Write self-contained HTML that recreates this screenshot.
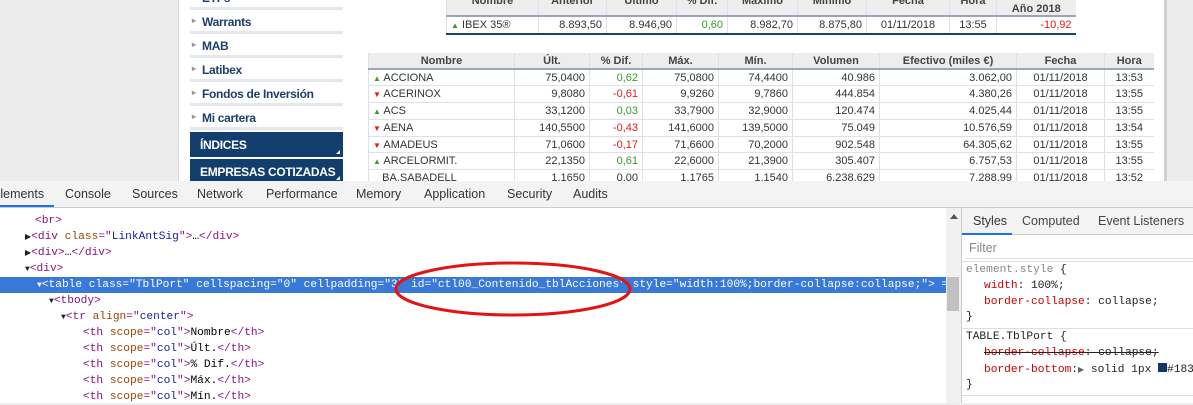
<!DOCTYPE html>
<html><head><meta charset="utf-8"><style>
*{box-sizing:border-box;margin:0;padding:0}
body{width:1193px;height:403px;overflow:hidden;position:relative;background:#ececec;font-family:"Liberation Sans",sans-serif}
.abs{position:absolute}
#page{left:178px;top:0;width:989px;height:181px;background:#fff;border-left:1px solid #d8d8d8;border-right:3px solid #d0d0d0}
.side{left:190px;width:153px;height:24px;border-bottom:3px solid #e4e8ee;font-size:12px;font-weight:bold;color:#1d3f6b;padding:5px 0 0 12px;letter-spacing:-0.3px}
.side:before{content:"▸";position:absolute;left:2px;top:6px;font-size:8px;color:#999}
.blue{left:190px;width:153px;background:#123e6d;color:#fff;font-size:12px;font-weight:bold;padding:6px 0 0 10px;letter-spacing:-0.3px}
.blue:after{content:"";position:absolute;right:3px;bottom:3px;border-left:4px solid transparent;border-bottom:4px solid #fff}
table{border-collapse:collapse;table-layout:fixed;font-family:"Liberation Sans Narrow","Liberation Sans",sans-serif;font-size:11px;color:#333}
td,th{border-left:1px solid #dde2ea;border-bottom:1px solid #dde2ea;padding:0 4px;white-space:nowrap;overflow:hidden}
th{background:#ededed;font-weight:bold;color:#444;text-align:center;border-bottom:2px solid #9aa6b8}
td{text-align:right;height:16.8px}
td.n{text-align:left}
.g{color:#3a9a2a}.r{color:#e01b1b}
.up{color:#3a9a2a;font-size:8px}.dn{color:#e01b1b;font-size:8px}
#tabs{left:0;top:181px;width:1193px;height:27px;background:#f3f3f3;border-bottom:1px solid #cbcbcb;font-size:12.5px;color:#333}
#tabs span{position:absolute;top:6px}
#tree{left:0;top:208px;width:946px;height:195px;background:#fff;font-family:"Liberation Mono",monospace;font-size:11.2px}
.l{position:absolute;height:16px;line-height:16px;white-space:pre}
.t{color:#881280}.a{color:#994500}.v{color:#1a1aa6}.x{color:#222}
#sel{left:0;top:277px;width:946px;height:16px;background:#3879d9;overflow:hidden}
#sel .l,#sel span{color:#fff}
#styles{left:961px;top:208px;width:232px;height:195px;background:#fff;border-left:1px solid #ccc;font-size:12.5px}
.s{position:absolute;font-family:"Liberation Mono",monospace;font-size:11.2px;white-space:pre;color:#222}
.p{color:#c80000}
</style></head><body>
<div id="page" class="abs"></div>

<div class="abs side" style="top:-14px">ETFs</div>
<div class="abs side" style="top:10px">Warrants</div>
<div class="abs side" style="top:34px">MAB</div>
<div class="abs side" style="top:58px">Latibex</div>
<div class="abs side" style="top:82px">Fondos de Inversión</div>
<div class="abs side" style="top:106px">Mi cartera</div>
<div class="abs blue" style="top:132px;height:25px">ÍNDICES</div>
<div class="abs blue" style="top:159px;height:24px">EMPRESAS COTIZADAS</div>

<table class="abs" style="left:446px;top:-9px;width:629px;border-bottom:2px solid #1d3f6b">
<colgroup><col style="width:92px"><col style="width:68px"><col style="width:70px"><col style="width:51px"><col style="width:70px"><col style="width:69px"><col style="width:83px"><col style="width:47px"><col style="width:79px"></colgroup>
<tr style="height:25px"><th style="vertical-align:top;padding-top:4px">Nombre</th><th style="vertical-align:top;padding-top:4px">Anterior</th><th style="vertical-align:top;padding-top:4px">Último</th><th style="vertical-align:top;padding-top:4px">% Dif.</th><th style="vertical-align:top;padding-top:4px">Máximo</th><th style="vertical-align:top;padding-top:4px">Mínimo</th><th style="vertical-align:top;padding-top:4px">Fecha</th><th style="vertical-align:top;padding-top:4px">Hora</th><th style="line-height:12px">Var.%<br>Año 2018</th></tr>
<tr><td class="n" style="height:18px"><span class="up">▲</span> IBEX 35®</td><td>8.893,50</td><td>8.946,90</td><td class="g">0,60</td><td>8.982,70</td><td>8.875,80</td><td style="text-align:center">01/11/2018</td><td style="text-align:center">13:55</td><td class="r">-10,92</td></tr>
</table>

<table class="abs" style="left:368px;top:53px;width:785px">
<colgroup><col style="width:146px"><col style="width:75px"><col style="width:53px"><col style="width:76px"><col style="width:74px"><col style="width:87px"><col style="width:137px"><col style="width:88px"><col style="width:49px"></colgroup>
<tr style="height:16px"><th>Nombre</th><th>Últ.</th><th>% Dif.</th><th>Máx.</th><th>Mín.</th><th>Volumen</th><th>Efectivo (miles €)</th><th>Fecha</th><th>Hora</th></tr>
<tr><td class="n"><span class="up">▲</span> ACCIONA</td><td>75,0400</td><td class="g">0,62</td><td>75,0800</td><td>74,4400</td><td>40.986</td><td>3.062,00</td><td style="text-align:center">01/11/2018</td><td style="text-align:center">13:53</td></tr>
<tr><td class="n"><span class="dn">▼</span> ACERINOX</td><td>9,8080</td><td class="r">-0,61</td><td>9,9260</td><td>9,7860</td><td>444.854</td><td>4.380,26</td><td style="text-align:center">01/11/2018</td><td style="text-align:center">13:55</td></tr>
<tr><td class="n"><span class="up">▲</span> ACS</td><td>33,1200</td><td class="g">0,03</td><td>33,7900</td><td>32,9000</td><td>120.474</td><td>4.025,44</td><td style="text-align:center">01/11/2018</td><td style="text-align:center">13:55</td></tr>
<tr><td class="n"><span class="dn">▼</span> AENA</td><td>140,5500</td><td class="r">-0,43</td><td>141,6000</td><td>139,5000</td><td>75.049</td><td>10.576,59</td><td style="text-align:center">01/11/2018</td><td style="text-align:center">13:54</td></tr>
<tr><td class="n"><span class="dn">▼</span> AMADEUS</td><td>71,0600</td><td class="r">-0,17</td><td>71,6600</td><td>70,2000</td><td>902.548</td><td>64.305,62</td><td style="text-align:center">01/11/2018</td><td style="text-align:center">13:55</td></tr>
<tr><td class="n"><span class="up">▲</span> ARCELORMIT.</td><td>22,1350</td><td class="g">0,61</td><td>22,6000</td><td>21,3900</td><td>305.407</td><td>6.757,53</td><td style="text-align:center">01/11/2018</td><td style="text-align:center">13:55</td></tr>
<tr><td class="n">&nbsp;&nbsp;&nbsp;BA.SABADELL</td><td>1,1650</td><td>0,00</td><td>1,1765</td><td>1,1540</td><td>6.238.629</td><td>7.288,99</td><td style="text-align:center">01/11/2018</td><td style="text-align:center">13:52</td></tr>
</table>

<div id="tabs" class="abs">
<span style="left:-8px">Elements</span>
<div class="abs" style="left:0;top:24px;width:54px;height:2px;background:#1a73e8"></div>
<span style="left:65px">Console</span>
<span style="left:132px">Sources</span>
<span style="left:197px">Network</span>
<span style="left:266px">Performance</span>
<span style="left:356px">Memory</span>
<span style="left:424px">Application</span>
<span style="left:507px">Security</span>
<span style="left:573px">Audits</span>
</div>

<div id="tree" class="abs">
<div class="l" style="left:35px;top:5px"><span class="t">&lt;br&gt;</span></div>
<div class="l" style="left:25px;top:21px"><span class="x" style="font-size:8px">▶</span><span class="t">&lt;div </span><span class="a">class</span><span class="t">="</span><span class="v">LinkAntSig</span><span class="t">"&gt;</span>…<span class="t">&lt;/div&gt;</span></div>
<div class="l" style="left:25px;top:37px"><span class="x" style="font-size:8px">▶</span><span class="t">&lt;div&gt;</span>…<span class="t">&lt;/div&gt;</span></div>
<div class="l" style="left:25px;top:53px"><span class="x" style="font-size:8px">▼</span><span class="t">&lt;div&gt;</span></div>
<div class="l" style="left:49px;top:85px"><span class="x" style="font-size:8px">▼</span><span class="t">&lt;tbody&gt;</span></div>
<div class="l" style="left:61px;top:101px"><span class="x" style="font-size:8px">▼</span><span class="t">&lt;tr </span><span class="a">align</span><span class="t">="</span><span class="v">center</span><span class="t">"&gt;</span></div>
<div class="l" style="left:83px;top:117px"><span class="t">&lt;th </span><span class="a">scope</span><span class="t">="</span><span class="v">col</span><span class="t">"&gt;</span>Nombre<span class="t">&lt;/th&gt;</span></div>
<div class="l" style="left:83px;top:133px"><span class="t">&lt;th </span><span class="a">scope</span><span class="t">="</span><span class="v">col</span><span class="t">"&gt;</span>Últ.<span class="t">&lt;/th&gt;</span></div>
<div class="l" style="left:83px;top:149px"><span class="t">&lt;th </span><span class="a">scope</span><span class="t">="</span><span class="v">col</span><span class="t">"&gt;</span>% Dif.<span class="t">&lt;/th&gt;</span></div>
<div class="l" style="left:83px;top:165px"><span class="t">&lt;th </span><span class="a">scope</span><span class="t">="</span><span class="v">col</span><span class="t">"&gt;</span>Máx.<span class="t">&lt;/th&gt;</span></div>
<div class="l" style="left:83px;top:181px"><span class="t">&lt;th </span><span class="a">scope</span><span class="t">="</span><span class="v">col</span><span class="t">"&gt;</span>Mín.<span class="t">&lt;/th&gt;</span></div>
</div>
<div id="sel" class="abs">
<div class="l" style="left:37px;top:0;font-family:'Liberation Mono',monospace;font-size:11.2px;color:#fff"><span style="font-size:8px">▼</span>&lt;table class="TblPort" cellspacing="0" cellpadding="3" id="ctl00_Contenido_tblAcciones" style="width:100%;border-collapse:collapse;"&gt; ==</div>
</div>
<div class="abs" style="left:946px;top:208px;width:15px;height:195px;background:#f1f1f1">
<div class="abs" style="left:4px;top:6px;border-left:4px solid transparent;border-right:4px solid transparent;border-bottom:5px solid #555"></div>
<div class="abs" style="left:1px;top:69px;width:12px;height:34px;background:#c1c1c1"></div>
</div>

<svg class="abs" style="left:0;top:0" width="1193" height="403"><ellipse cx="513" cy="289" rx="117" ry="26" fill="none" stroke="#e31414" stroke-width="3"/></svg>

<div id="styles" class="abs">
<div class="abs" style="left:0;top:0;width:232px;height:27px;border-bottom:1px solid #ccc;background:#f3f3f3"></div>
<span class="abs" style="left:11px;top:6px;color:#333">Styles</span>
<div class="abs" style="left:0;top:25px;width:50px;height:2px;background:#1a73e8"></div>
<span class="abs" style="left:60px;top:6px;color:#444">Computed</span>
<span class="abs" style="left:136px;top:6px;color:#444">Event Listeners</span>
<div class="abs" style="left:3px;top:30px;width:229px;height:21px;background:#fff;border-bottom:1px solid #e0e0e0;color:#888;font-size:12.5px;padding:3px 4px">Filter</div>
<div class="abs" style="left:0;top:53px;width:232px;height:1px;background:#ddd"></div>
<div class="s" style="left:4px;top:56px"><span style="color:#888">element.style</span> {</div>
<div class="s" style="left:22px;top:72px"><span class="p">width</span>: 100%;</div>
<div class="s" style="left:22px;top:88px"><span class="p">border-collapse</span>: collapse;</div>
<div class="s" style="left:4px;top:103px">}</div>
<div class="abs" style="left:0;top:120px;width:232px;height:1px;background:#ddd"></div>
<div class="s" style="left:4px;top:123px">TABLE.TblPort {</div>
<div class="s" style="left:22px;top:139px;text-decoration:line-through"><span class="p">border-collapse</span>: collapse;</div>
<div class="s" style="left:22px;top:155px"><span class="p">border-bottom</span>:<span style="font-size:8px;color:#666">▶</span> solid 1px <span style="display:inline-block;width:9px;height:9px;background:#18356b"></span>#183</div>
<div class="s" style="left:4px;top:171px">}</div>
<div class="abs" style="left:0;top:187px;width:232px;height:1px;background:#ddd"></div>
</div>
</body></html>
